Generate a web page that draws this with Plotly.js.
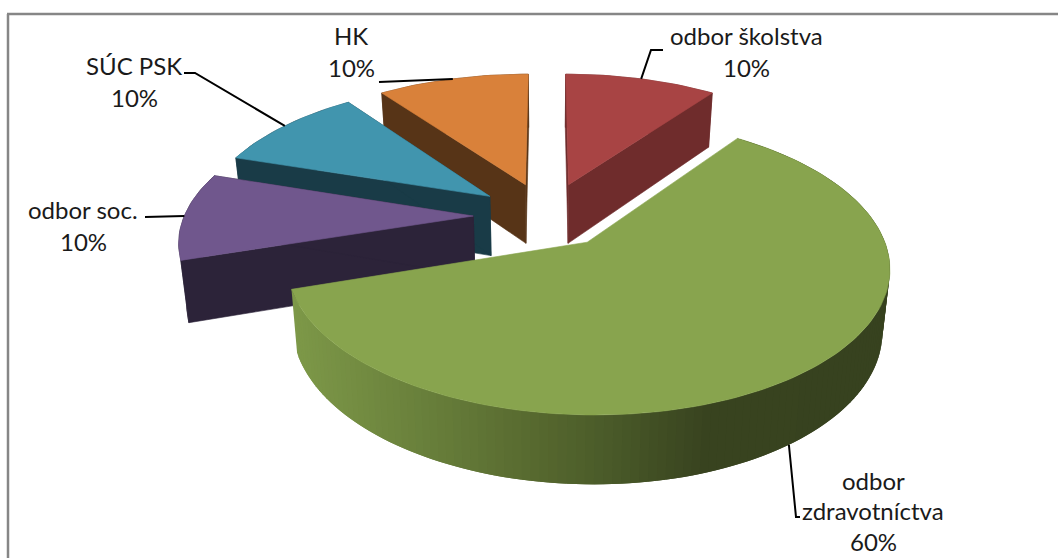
<!DOCTYPE html>
<html>
<head>
<meta charset="utf-8">
<script src="https://cdn.plot.ly/plotly-3.0.1.min.js"></script>
<style>html,body{margin:0;padding:0;background:#fff;overflow:hidden}#chart{width:1058px;height:558px}</style>
</head>
<body>
<div id="chart"></div>
<script>
// Data
const categories = ["odbor školstva", "odbor zdravotníctva", "odbor soc.", "SÚC PSK", "HK"];
const values = [10, 60, 10, 10, 10];
// Styling per slice
const topColors = ["#a84444", "#88a44e", "#70578d", "#4195ae", "#d9813a"];
const sideColors = ["#6f2c2c", null, "#2c2339", "#193b47", "#573417"];
const explode = [0.25, 0.23, 0.255, 0.25, 0.25];
const drawOrder = [0, 4, 3, 2, 1];
const greenStops = [[297, [125,152,72]], [450, [100,122,56]], [530, [87,105,47]], [590, [76,93,42]], [700, [56,67,31]], [890, [55,66,31]]];
// Label line layout (centre x, first line centre y, line step) and leader paths
const labelLines = [["odbor školstva"], ["odbor", "zdravotníctva"], ["odbor soc."], ["SÚC PSK"], ["HK"]];
const labelPos = [[746, 35, 32], [873, 480, 30.5], [83, 209, 32], [134, 65, 32], [351, 35, 32]];
const leaderRest = [[[651, 50], [663, 50]], [[796, 517], [800, 517]], [[145, 217]], [[195, 73], [184, 73]], [[379, 82]]];

// Projection of the tilted pie plane onto the page axes
const CX = 547, CY = 216, F = 289, FG = 136.7, K = 0.156, DEPTH = 60.2, DEPTH_POW = 0.7, SHRINK = 0.978;
function project(u, v, lower) {
  const d = 1 + K * v;
  const x = F * u / d, y = CY - FG * v / d;
  return lower ? [CX + x * SHRINK, y + DEPTH / Math.pow(d, DEPTH_POW)] : [CX + x, y];
}
function rad(deg) { return deg * Math.PI / 180; }
function point(theta, pull, mid, lower, r) {
  const R = r === undefined ? 1 : r;
  return project(pull * Math.sin(rad(mid)) + R * Math.sin(rad(theta)),
                 pull * Math.cos(rad(mid)) + R * Math.cos(rad(theta)), lower);
}
function poly(pts, color, lineWidth) {
  const xs = pts.map(p => p[0]).concat(pts[0][0]);
  const ys = pts.map(p => p[1]).concat(pts[0][1]);
  return {type: "scatter", mode: "lines", x: xs, y: ys, fill: "toself", fillcolor: color,
          line: {width: lineWidth, color: color}, hoverinfo: "skip", showlegend: false};
}
function gradient(x) {
  if (x <= greenStops[0][0]) return "rgb(" + greenStops[0][1].join(",") + ")";
  for (let i = 1; i < greenStops.length; i++) {
    if (x <= greenStops[i][0]) {
      const a = greenStops[i - 1], b = greenStops[i], t = (x - a[0]) / (b[0] - a[0]);
      return "rgb(" + a[1].map((c, j) => Math.round(c + (b[1][j] - c) * t)).join(",") + ")";
    }
  }
  return "rgb(" + greenStops[greenStops.length - 1][1].join(",") + ")";
}

const total = values.reduce((a, b) => a + b, 0);
const starts = [], spans = [];
values.reduce((acc, v, i) => { starts[i] = acc; spans[i] = v / total * 360; return acc + spans[i]; }, 0);

const traces = [], shapes = [], annotations = [];
drawOrder.forEach(i => {
  const a0 = starts[i], a1 = a0 + spans[i], mid = (a0 + a1) / 2, pull = explode[i];
  const n = Math.max(8, Math.round(spans[i] / 1.5));
  const angles = [];
  for (let k = 0; k <= n; k++) angles.push(a0 + (a1 - a0) * k / n);
  // walls
  if (sideColors[i]) {
    traces.push(poly(angles.map(t => point(t, pull, mid, false)).concat(angles.slice().reverse().map(t => point(t, pull, mid, true))), sideColors[i], 0.6));
    [a0, a1].forEach(t => traces.push(poly([point(mid, pull, mid, false, 0), point(t, pull, mid, false), point(t, pull, mid, true), point(mid, pull, mid, true, 0)], sideColors[i], 0.6)));
  } else {
    // overlapping bands, painted in order, so that no seams show between them
    for (let k = 0; k < n; k++) {
      const a = angles[Math.max(0, k - 1)], b = angles[k + 1];
      const p0 = point(a, pull, mid, false), p1 = point(b, pull, mid, false);
      const q1 = point(b, pull, mid, true), q0 = point(a, pull, mid, true);
      const c = point(angles[k], pull, mid, true);
      traces.push(poly([p0, p1, q1, q0], gradient(c[0]), 0));
    }
  }
  // top face
  traces.push(poly([point(mid, pull, mid, false, 0)].concat(angles.map(t => point(t, pull, mid, false))), topColors[i], 0.6));
});

// leaders and labels
categories.forEach((name, i) => {
  const mid = starts[i] + spans[i] / 2;
  const lower = i === 1;
  const path = [point(mid, explode[i], mid, lower)].concat(leaderRest[i]);
  traces.push({type: "scatter", mode: "lines", x: path.map(p => p[0]), y: path.map(p => p[1]),
               line: {color: "#000000", width: 2}, hoverinfo: "skip", showlegend: false});
  const lines = labelLines[i].concat(Math.round(values[i] / total * 100) + "%");
  lines.forEach((t, j) => annotations.push({
    x: labelPos[i][0], y: labelPos[i][1] + j * labelPos[i][2], xref: "x", yref: "y", text: t, showarrow: false,
    xanchor: "center", yanchor: "middle", font: {family: "Lato", size: 24, color: "#1a1a1a"}
  }));
});

shapes.push({type: "line", xref: "paper", yref: "paper", x0: 8 / 1058, x1: 8 / 1058, y0: 0, y1: 1 - 14 / 558, line: {color: "#868686", width: 2.5}});
shapes.push({type: "line", xref: "paper", yref: "paper", x0: 7 / 1058, x1: 1, y0: 1 - 14 / 558, y1: 1 - 14 / 558, line: {color: "#868686", width: 2.5}});

Plotly.newPlot("chart", traces, {
  width: 1058, height: 558, margin: {l: 0, r: 0, t: 0, b: 0},
  paper_bgcolor: "#ffffff", plot_bgcolor: "#ffffff", showlegend: false,
  xaxis: {range: [0, 1058], visible: false, fixedrange: true},
  yaxis: {range: [558, 0], visible: false, fixedrange: true},
  shapes: shapes, annotations: annotations
}, {staticPlot: true, displayModeBar: false});
</script>
</body>
</html>
